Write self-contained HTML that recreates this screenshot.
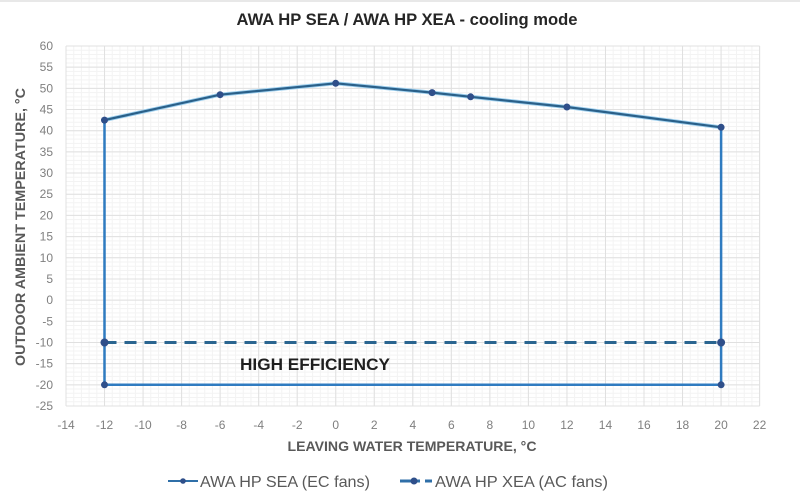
<!DOCTYPE html>
<html><head><meta charset="utf-8"><style>
html,body{margin:0;padding:0;background:#fff;}
svg{display:block;}
text{font-family:"Liberation Sans",sans-serif;}
</style></head><body>
<svg width="800" height="498" viewBox="0 0 800 498" xmlns="http://www.w3.org/2000/svg">
<rect width="800" height="498" fill="#fff"/>
<line x1="0" y1="1" x2="800" y2="1" stroke="#e8e8e8" stroke-width="2"/>
<g id="minor" stroke="#f3f3f3" stroke-width="1">
</g>
<g id="major" stroke="#e0e0e0" stroke-width="1">
</g>
<text x="407" y="25" text-anchor="middle" font-size="16.5" font-weight="bold" fill="#262626" textLength="341" lengthAdjust="spacingAndGlyphs">AWA HP SEA / AWA HP XEA - cooling mode</text>
<g id="ylab" font-size="12" fill="#7f7f7f" text-anchor="end"></g>
<g id="xlab" font-size="12" fill="#7f7f7f" text-anchor="middle"></g>
<text x="412" y="451" text-anchor="middle" font-size="14" font-weight="bold" fill="#595959" textLength="249" lengthAdjust="spacingAndGlyphs">LEAVING WATER TEMPERATURE, °C</text>
<text transform="translate(25,227) rotate(-90)" text-anchor="middle" font-size="14" font-weight="bold" fill="#595959" textLength="278" lengthAdjust="spacingAndGlyphs">OUTDOOR AMBIENT TEMPERATURE, °C</text>
<!-- series -->
<polyline points="104.5,384.8 104.5,120.1" fill="none" stroke="#2f7bc0" stroke-width="2.5"/>
<polyline points="721.1,127.3 721.1,384.8 104.5,384.8" fill="none" stroke="#2f7bc0" stroke-width="2.5"/>
<polyline points="104.5,120.1 220.1,94.7 335.7,83.3 432.1,92.6 470.6,96.8 566.9,107.0 721.1,127.3" fill="none" stroke="#9fd0ef" stroke-width="4"/>
<polyline points="104.5,120.1 220.1,94.7 335.7,83.3 432.1,92.6 470.6,96.8 566.9,107.0 721.1,127.3" fill="none" stroke="#2a6089" stroke-width="2.2"/>
<line x1="104.5" y1="342.5" x2="721.1" y2="342.5" stroke="#2a6590" stroke-width="3" stroke-dasharray="12,8"/>
<g fill="#2f4f8a">
<circle cx="104.5" cy="120.1" r="3.5"/><circle cx="220.1" cy="94.7" r="3.5"/><circle cx="335.7" cy="83.3" r="3.5"/>
<circle cx="432.1" cy="92.6" r="3.5"/><circle cx="470.6" cy="96.8" r="3.5"/><circle cx="566.9" cy="107.0" r="3.5"/>
<circle cx="721.1" cy="127.3" r="3.5"/><circle cx="721.1" cy="384.8" r="3.5"/><circle cx="104.5" cy="384.8" r="3.5"/>
<circle cx="104.5" cy="342.5" r="4"/><circle cx="721.1" cy="342.5" r="4"/>
</g>
<text x="240" y="370" font-size="17" font-weight="bold" fill="#1f1f1f" textLength="150" lengthAdjust="spacingAndGlyphs">HIGH EFFICIENCY</text>
<!-- legend -->
<line x1="168" y1="481" x2="198" y2="481" stroke="#2f6fa8" stroke-width="2"/>
<circle cx="183" cy="481" r="2.8" fill="#2f4f8a"/>
<text x="200" y="487" font-size="16" fill="#595959" textLength="170" lengthAdjust="spacingAndGlyphs">AWA HP SEA (EC fans)</text>
<line x1="400" y1="481" x2="420" y2="481" stroke="#2f6fa8" stroke-width="3"/>
<line x1="425" y1="481" x2="432" y2="481" stroke="#2f6fa8" stroke-width="3"/>
<circle cx="414" cy="481" r="3.5" fill="#2f4f8a"/>
<text x="435" y="487" font-size="16" fill="#595959" textLength="173" lengthAdjust="spacingAndGlyphs">AWA HP XEA (AC fans)</text>
</svg>
<script>
(function(){
var ns="http://www.w3.org/2000/svg";
function X(v){return 66+(v+14)*19.267;}
function Y(v){return 46+(60-v)*4.2353;}
var minor=document.getElementById('minor'),major=document.getElementById('major');
function ln(g,x1,y1,x2,y2){var l=document.createElementNS(ns,'line');l.setAttribute('x1',x1);l.setAttribute('y1',y1);l.setAttribute('x2',x2);l.setAttribute('y2',y2);g.appendChild(l);}
for(var v=-14;v<=22.001;v+=0.4){ln(minor,X(v),Y(60),X(v),Y(-25));}
for(var w=-25;w<=60;w+=1){ln(minor,X(-14),Y(w),X(22),Y(w));}
for(var v=-14;v<=22;v+=2){ln(major,X(v),Y(60),X(v),Y(-25));}
for(var w=-25;w<=60;w+=5){ln(major,X(-14),Y(w),X(22),Y(w));}
var yl=document.getElementById('ylab'),xl=document.getElementById('xlab');
for(var w=-25;w<=60;w+=5){var t=document.createElementNS(ns,'text');t.setAttribute('x',53);t.setAttribute('y',Y(w)+4);t.textContent=w;yl.appendChild(t);}
for(var v=-14;v<=22;v+=2){var t=document.createElementNS(ns,'text');t.setAttribute('x',X(v));t.setAttribute('y',429);t.textContent=v;xl.appendChild(t);}
})();
</script>
</body></html>
